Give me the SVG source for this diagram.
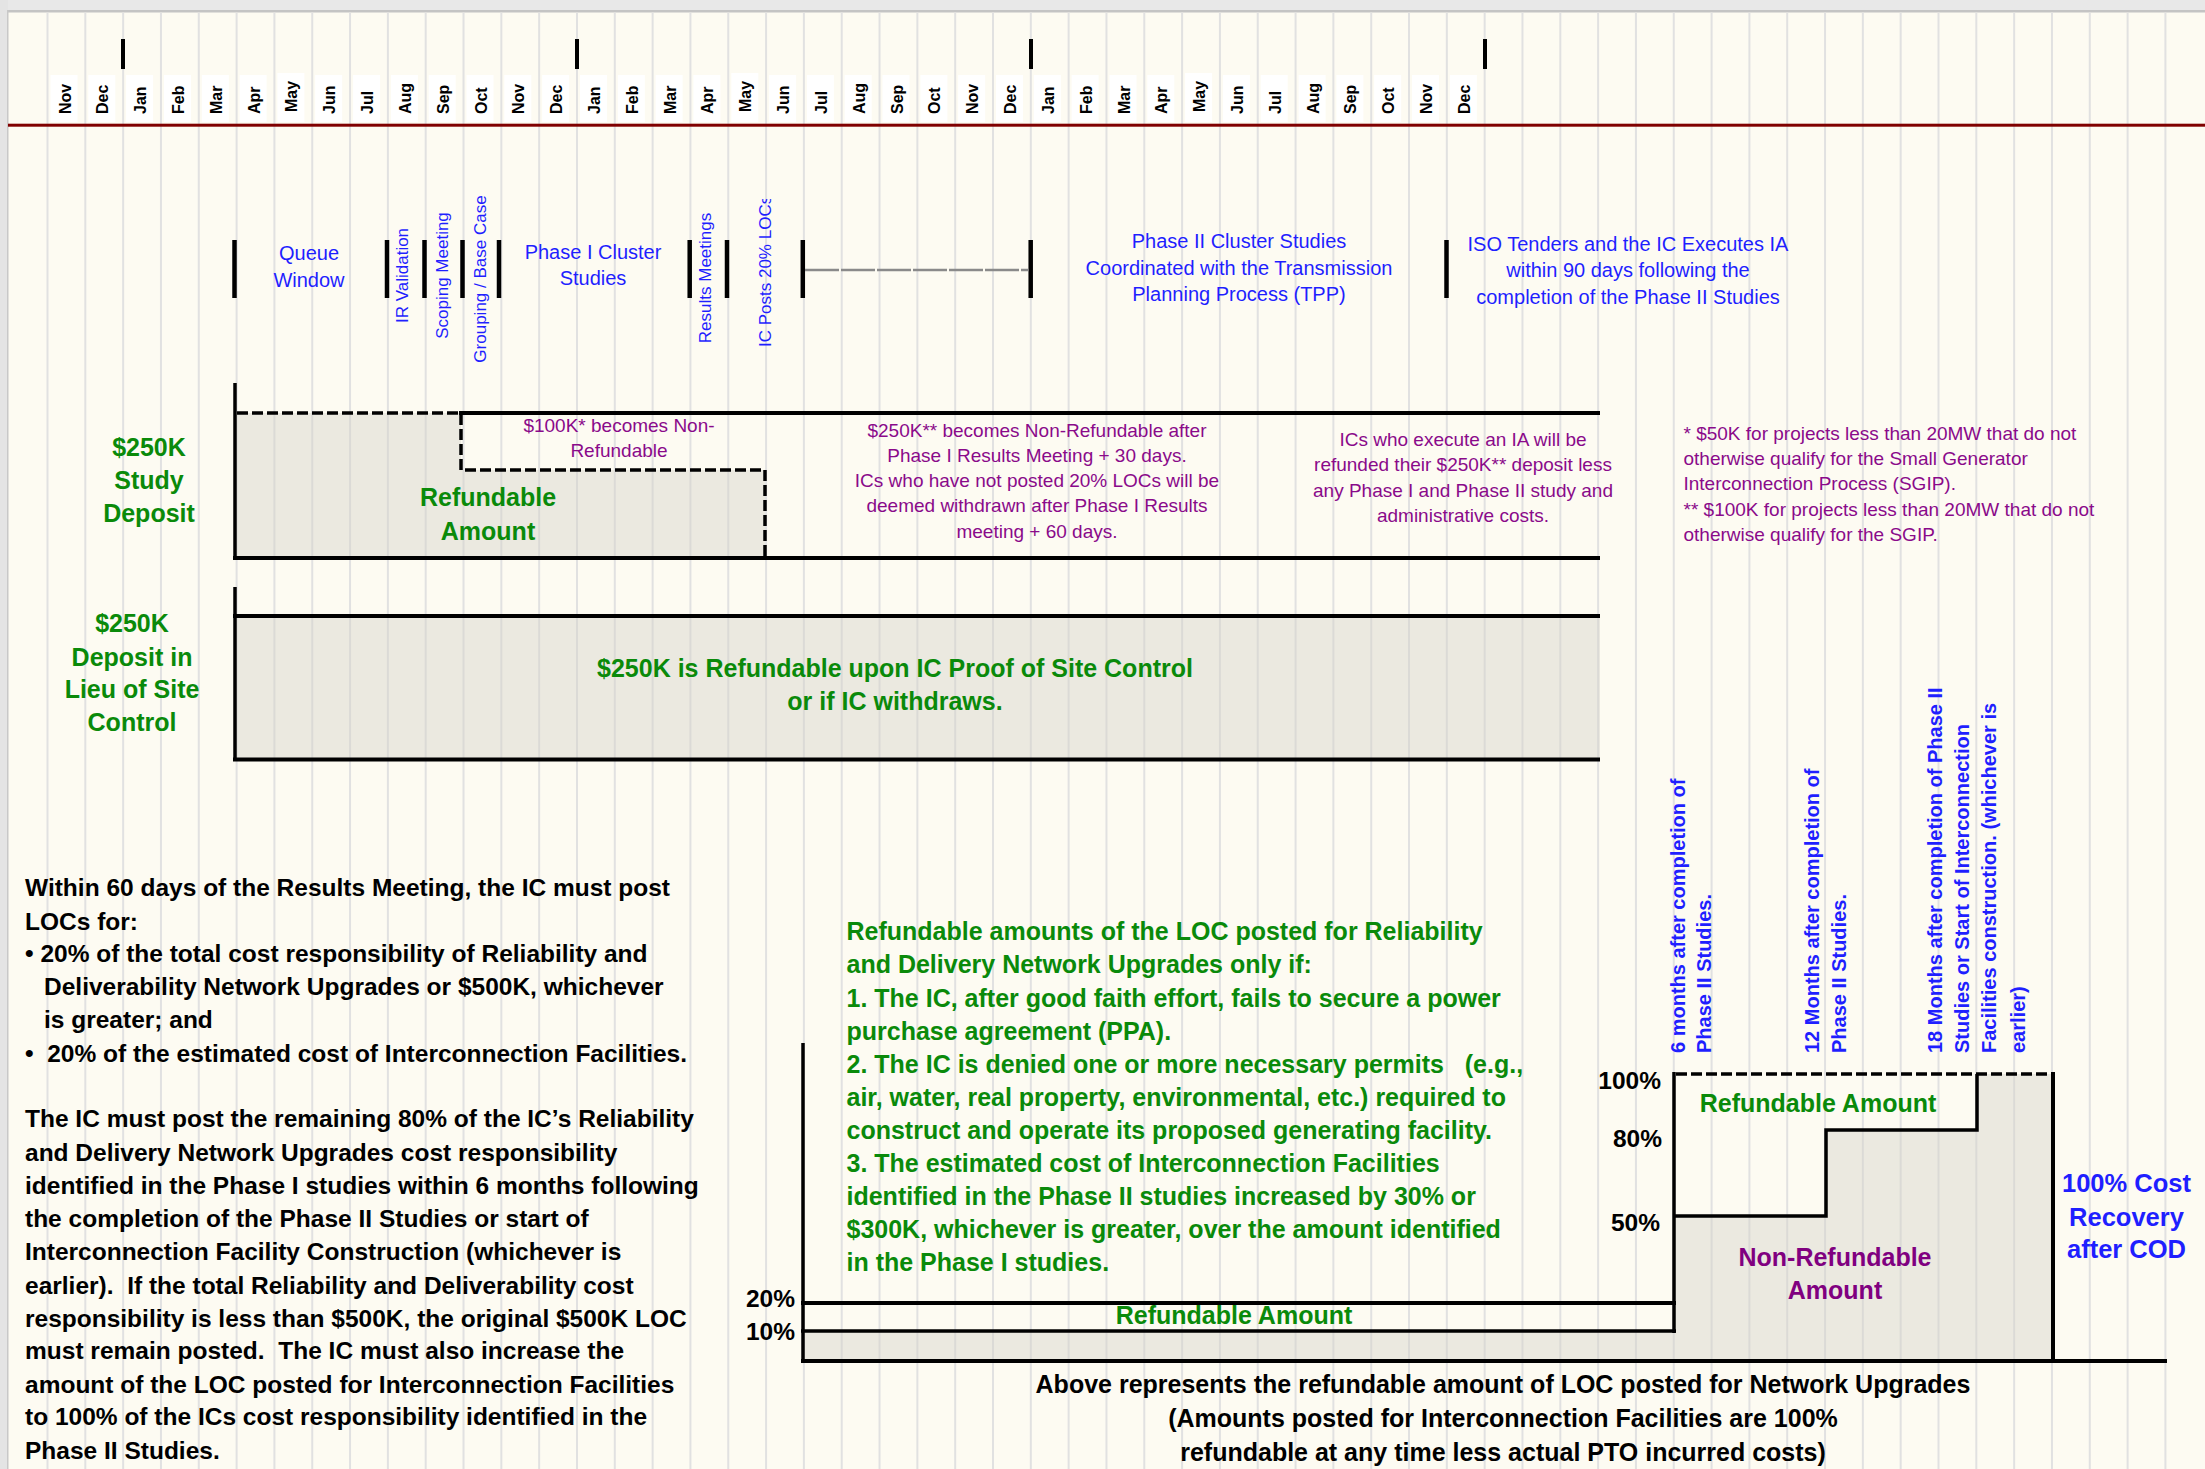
<svg xmlns="http://www.w3.org/2000/svg" width="2205" height="1469" viewBox="0 0 2205 1469">
<defs>
<style>
.grid{stroke:#e1e1e1;stroke-width:2;fill:none}
.mbox{fill:#ffffff}
.month{font-family:"Liberation Sans",Arial,sans-serif;font-weight:bold;font-size:16px;fill:#000}
.ph{font-family:"Liberation Sans",Arial,sans-serif;font-size:20px;fill:#1f1fff;text-anchor:middle}
.phr{font-family:"Liberation Sans",Arial,sans-serif;font-size:17px;fill:#1f1fff;text-anchor:middle}
.bar{stroke:#000;stroke-width:4.5;fill:none}
.thick{stroke:#000;stroke-width:4;fill:none}
.med{stroke:#000;stroke-width:3.5;fill:none}
.dash{stroke:#000;stroke-width:3.5;stroke-dasharray:11 4;fill:none}
.gdash{stroke:#8a8a8a;stroke-width:2.5;stroke-dasharray:34 2;fill:none}
.fill{fill:#d4d2ca;fill-opacity:0.45}
.gb{font-family:"Liberation Sans",Arial,sans-serif;font-weight:bold;font-size:25px;fill:#0a8a0a;text-anchor:middle}
.gl{font-family:"Liberation Sans",Arial,sans-serif;font-weight:bold;font-size:25px;fill:#0a8a0a;white-space:pre}
.pu{font-family:"Liberation Sans",Arial,sans-serif;font-size:19px;fill:#8a0a8a;text-anchor:middle}
.pul{font-family:"Liberation Sans",Arial,sans-serif;font-size:19px;fill:#8a0a8a}
.pb{font-family:"Liberation Sans",Arial,sans-serif;font-weight:bold;font-size:25px;fill:#800080;text-anchor:middle}
.bk{font-family:"Liberation Sans",Arial,sans-serif;font-weight:bold;font-size:24.5px;fill:#000;white-space:pre}
.bkc{font-family:"Liberation Sans",Arial,sans-serif;font-weight:bold;font-size:25px;fill:#000;text-anchor:middle}
.pct{font-family:"Liberation Sans",Arial,sans-serif;font-weight:bold;font-size:24.5px;fill:#000;text-anchor:end}
.blr{font-family:"Liberation Sans",Arial,sans-serif;font-weight:bold;font-size:20px;fill:#1f1fff}
.blc{font-family:"Liberation Sans",Arial,sans-serif;font-weight:bold;font-size:25.5px;fill:#1f1fff;text-anchor:middle}
</style>
<clipPath id="clipIC"><rect x="740" y="199" width="60" height="200"/></clipPath>
</defs>

<!-- background -->
<rect x="0" y="0" width="2205" height="1469" fill="#fdfbf2"/>
<rect x="0" y="0" width="2205" height="10" fill="#e8e8e8"/>
<rect x="0" y="10" width="2205" height="2.5" fill="#c4c4c4"/>
<rect x="0" y="0" width="8" height="1469" fill="#e4e4e4"/>
<rect x="7" y="10" width="1.5" height="1459" fill="#c8c8c8"/>

<!-- grid -->
<path class="grid" d="M47.5 12.5V1469M85.32 12.5V1469M123.14 12.5V1469M160.96 12.5V1469M198.78 12.5V1469M236.6 12.5V1469M274.42 12.5V1469M312.24 12.5V1469M350.06 12.5V1469M387.88 12.5V1469M425.7 12.5V1469M463.52 12.5V1469M501.34 12.5V1469M539.16 12.5V1469M576.98 12.5V1469M614.8 12.5V1469M652.62 12.5V1469M690.44 12.5V1469M728.26 12.5V1469M766.08 12.5V1469M803.9 12.5V1469M841.72 12.5V1469M879.54 12.5V1469M917.36 12.5V1469M955.18 12.5V1469M993 12.5V1469M1030.82 12.5V1469M1068.64 12.5V1469M1106.46 12.5V1469M1144.28 12.5V1469M1182.1 12.5V1469M1219.92 12.5V1469M1257.74 12.5V1469M1295.56 12.5V1469M1333.38 12.5V1469M1371.2 12.5V1469M1409.02 12.5V1469M1446.84 12.5V1469M1484.66 12.5V1469M1522.48 12.5V1469M1560.3 12.5V1469M1598.12 12.5V1469M1635.94 12.5V1469M1673.76 12.5V1469M1711.58 12.5V1469M1749.4 12.5V1469M1787.22 12.5V1469M1825.04 12.5V1469M1862.86 12.5V1469M1900.68 12.5V1469M1938.5 12.5V1469M1976.32 12.5V1469M2014.14 12.5V1469M2051.96 12.5V1469M2089.78 12.5V1469M2127.6 12.5V1469M2165.42 12.5V1469"/>

<!-- month header -->
<g id="month-header">
<rect x="8" y="123.7" width="2197" height="3" fill="#800000"/>
<g class="ticks">
<rect x="121" y="39" width="4" height="30" fill="#000"/>
<rect x="575" y="39" width="4" height="30" fill="#000"/>
<rect x="1029" y="39" width="4" height="30" fill="#000"/>
<rect x="1483" y="39" width="4" height="30" fill="#000"/>
</g>
<g class="boxes">
<rect class="mbox" x="50.5" y="75" width="27" height="47"/>
<rect class="mbox" x="88.3" y="75" width="27" height="47"/>
<rect class="mbox" x="126.1" y="75" width="27" height="47"/>
<rect class="mbox" x="164" y="75" width="27" height="47"/>
<rect class="mbox" x="201.8" y="75" width="27" height="47"/>
<rect class="mbox" x="239.6" y="75" width="27" height="47"/>
<rect class="mbox" x="277.4" y="73" width="27" height="49"/>
<rect class="mbox" x="315.2" y="75" width="27" height="47"/>
<rect class="mbox" x="353.1" y="75" width="27" height="47"/>
<rect class="mbox" x="390.9" y="75" width="27" height="47"/>
<rect class="mbox" x="428.7" y="75" width="27" height="47"/>
<rect class="mbox" x="466.5" y="75" width="27" height="47"/>
<rect class="mbox" x="504.3" y="75" width="27" height="47"/>
<rect class="mbox" x="542.2" y="75" width="27" height="47"/>
<rect class="mbox" x="580" y="75" width="27" height="47"/>
<rect class="mbox" x="617.8" y="75" width="27" height="47"/>
<rect class="mbox" x="655.6" y="75" width="27" height="47"/>
<rect class="mbox" x="693.4" y="75" width="27" height="47"/>
<rect class="mbox" x="731.3" y="73" width="27" height="49"/>
<rect class="mbox" x="769.1" y="75" width="27" height="47"/>
<rect class="mbox" x="806.9" y="75" width="27" height="47"/>
<rect class="mbox" x="844.7" y="75" width="27" height="47"/>
<rect class="mbox" x="882.5" y="75" width="27" height="47"/>
<rect class="mbox" x="920.4" y="75" width="27" height="47"/>
<rect class="mbox" x="958.2" y="75" width="27" height="47"/>
<rect class="mbox" x="996" y="75" width="27" height="47"/>
<rect class="mbox" x="1033.8" y="75" width="27" height="47"/>
<rect class="mbox" x="1071.6" y="75" width="27" height="47"/>
<rect class="mbox" x="1109.5" y="75" width="27" height="47"/>
<rect class="mbox" x="1147.3" y="75" width="27" height="47"/>
<rect class="mbox" x="1185.1" y="73" width="27" height="49"/>
<rect class="mbox" x="1222.9" y="75" width="27" height="47"/>
<rect class="mbox" x="1260.7" y="75" width="27" height="47"/>
<rect class="mbox" x="1298.6" y="75" width="27" height="47"/>
<rect class="mbox" x="1336.4" y="75" width="27" height="47"/>
<rect class="mbox" x="1374.2" y="75" width="27" height="47"/>
<rect class="mbox" x="1412" y="75" width="27" height="47"/>
<rect class="mbox" x="1449.8" y="75" width="27" height="47"/>
</g>
<g class="labels">
<text class="month" transform="translate(70.5,114) rotate(-90)">Nov</text>
<text class="month" transform="translate(108.3,114) rotate(-90)">Dec</text>
<text class="month" transform="translate(146.1,114) rotate(-90)">Jan</text>
<text class="month" transform="translate(184,114) rotate(-90)">Feb</text>
<text class="month" transform="translate(221.8,114) rotate(-90)">Mar</text>
<text class="month" transform="translate(259.6,114) rotate(-90)">Apr</text>
<text class="month" transform="translate(297.4,112) rotate(-90)">May</text>
<text class="month" transform="translate(335.2,114) rotate(-90)">Jun</text>
<text class="month" transform="translate(373.1,114) rotate(-90)">Jul</text>
<text class="month" transform="translate(410.9,114) rotate(-90)">Aug</text>
<text class="month" transform="translate(448.7,114) rotate(-90)">Sep</text>
<text class="month" transform="translate(486.5,114) rotate(-90)">Oct</text>
<text class="month" transform="translate(524.3,114) rotate(-90)">Nov</text>
<text class="month" transform="translate(562.2,114) rotate(-90)">Dec</text>
<text class="month" transform="translate(600,114) rotate(-90)">Jan</text>
<text class="month" transform="translate(637.8,114) rotate(-90)">Feb</text>
<text class="month" transform="translate(675.6,114) rotate(-90)">Mar</text>
<text class="month" transform="translate(713.4,114) rotate(-90)">Apr</text>
<text class="month" transform="translate(751.3,112) rotate(-90)">May</text>
<text class="month" transform="translate(789.1,114) rotate(-90)">Jun</text>
<text class="month" transform="translate(826.9,114) rotate(-90)">Jul</text>
<text class="month" transform="translate(864.7,114) rotate(-90)">Aug</text>
<text class="month" transform="translate(902.5,114) rotate(-90)">Sep</text>
<text class="month" transform="translate(940.4,114) rotate(-90)">Oct</text>
<text class="month" transform="translate(978.2,114) rotate(-90)">Nov</text>
<text class="month" transform="translate(1016,114) rotate(-90)">Dec</text>
<text class="month" transform="translate(1053.8,114) rotate(-90)">Jan</text>
<text class="month" transform="translate(1091.6,114) rotate(-90)">Feb</text>
<text class="month" transform="translate(1129.5,114) rotate(-90)">Mar</text>
<text class="month" transform="translate(1167.3,114) rotate(-90)">Apr</text>
<text class="month" transform="translate(1205.1,112) rotate(-90)">May</text>
<text class="month" transform="translate(1242.9,114) rotate(-90)">Jun</text>
<text class="month" transform="translate(1280.7,114) rotate(-90)">Jul</text>
<text class="month" transform="translate(1318.6,114) rotate(-90)">Aug</text>
<text class="month" transform="translate(1356.4,114) rotate(-90)">Sep</text>
<text class="month" transform="translate(1394.2,114) rotate(-90)">Oct</text>
<text class="month" transform="translate(1432,114) rotate(-90)">Nov</text>
<text class="month" transform="translate(1469.8,114) rotate(-90)">Dec</text>
</g>
</g>

<!-- phase row -->
<g id="phases">
<g class="bars">
<line class="bar" x1="234.5" y1="240" x2="234.5" y2="298"/>
<line class="bar" x1="387" y1="240" x2="387" y2="298"/>
<line class="bar" x1="424.5" y1="240" x2="424.5" y2="298"/>
<line class="bar" x1="462.5" y1="240" x2="462.5" y2="298"/>
<line class="bar" x1="499" y1="240" x2="499" y2="298"/>
<line class="bar" x1="689.7" y1="240" x2="689.7" y2="298"/>
<line class="bar" x1="727" y1="240" x2="727" y2="298"/>
<line class="bar" x1="802.8" y1="240" x2="802.8" y2="298"/>
<line class="bar" x1="1030.7" y1="240" x2="1030.7" y2="298"/>
<line class="bar" x1="1446.5" y1="240" x2="1446.5" y2="298"/>
<line class="gdash" x1="805" y1="270" x2="1028.5" y2="270"/>
</g>
<g id="queue-window"><text class="ph" x="309" y="260">Queue</text><text class="ph" x="309" y="286.5">Window</text></g>
<g id="ir-validation"><text class="phr" transform="translate(408,275.5) rotate(-90)">IR Validation</text></g>
<g id="scoping-meeting"><text class="phr" transform="translate(448,275.5) rotate(-90)">Scoping Meeting</text></g>
<g id="grouping"><text class="phr" transform="translate(486,279) rotate(-90)">Grouping / Base Case</text></g>
<g id="phase1"><text class="ph" x="593" y="259">Phase I Cluster</text><text class="ph" x="593" y="284.5">Studies</text></g>
<g id="results-meetings"><text class="phr" transform="translate(711,278) rotate(-90)">Results Meetings</text></g>
<g id="ic-posts" clip-path="url(#clipIC)"><text class="phr" style="text-anchor:start" transform="translate(771,347) rotate(-90)">IC Posts 20% LOCs</text></g>
<g id="phase2"><text class="ph" x="1239" y="248">Phase II Cluster Studies</text><text class="ph" x="1239" y="274.5">Coordinated with the Transmission</text><text class="ph" x="1239" y="301">Planning Process (TPP)</text></g>
<g id="iso-tenders"><text class="ph" x="1628" y="251">ISO Tenders and the IC Executes IA</text><text class="ph" x="1628" y="277">within 90 days following the</text><text class="ph" x="1628" y="304">completion of the Phase II Studies</text></g>
</g>

<!-- study deposit -->
<g id="study-deposit">
<polygon class="fill" points="235,413 461,413 461,470 765,470 765,558 235,558"/>
<line class="med" x1="235" y1="383" x2="235" y2="560"/>
<path class="dash" d="M237 413H461V470H765V556"/>
<line class="thick" x1="459" y1="413" x2="1600" y2="413"/>
<line class="thick" x1="233" y1="558" x2="1600" y2="558"/>
<text class="gb" x="149" y="456">$250K</text>
<text class="gb" x="149" y="489">Study</text>
<text class="gb" x="149" y="522">Deposit</text>
<text class="gb" x="488" y="505.5">Refundable</text>
<text class="gb" x="488" y="539.5">Amount</text>
<text class="pu" x="619" y="431.5">$100K* becomes Non-</text>
<text class="pu" x="619" y="456.5">Refundable</text>
<text class="pu" x="1037" y="436.5">$250K** becomes Non-Refundable after</text>
<text class="pu" x="1037" y="461.5">Phase I Results Meeting + 30 days.</text>
<text class="pu" x="1037" y="486.5">ICs who have not posted 20% LOCs will be</text>
<text class="pu" x="1037" y="512">deemed withdrawn after Phase I Results</text>
<text class="pu" x="1037" y="537.5">meeting + 60 days.</text>
<text class="pu" x="1463" y="445.5">ICs who execute an IA will be</text>
<text class="pu" x="1463" y="471">refunded their $250K** deposit less</text>
<text class="pu" x="1463" y="496.5">any Phase I and Phase II study and</text>
<text class="pu" x="1463" y="521.5">administrative costs.</text>
</g>

<g id="footnotes">
<text class="pul" x="1683.5" y="439.5">* $50K for projects less than 20MW that do not</text>
<text class="pul" x="1683.5" y="464.5">otherwise qualify for the Small Generator</text>
<text class="pul" x="1683.5" y="490">Interconnection Process (SGIP).</text>
<text class="pul" x="1683.5" y="515.5">** $100K for projects less than 20MW that do not</text>
<text class="pul" x="1683.5" y="540.5">otherwise qualify for the SGIP.</text>
</g>

<!-- site control -->
<g id="site-control">
<rect class="fill" x="235" y="616" width="1365" height="143.5"/>
<line class="med" x1="235" y1="587" x2="235" y2="761"/>
<line class="thick" x1="233" y1="616" x2="1600" y2="616"/>
<line class="thick" x1="233" y1="759.5" x2="1600" y2="759.5"/>
<text class="gb" x="132" y="632">$250K</text>
<text class="gb" x="132" y="665.5">Deposit in</text>
<text class="gb" x="132" y="698">Lieu of Site</text>
<text class="gb" x="132" y="730.5">Control</text>
<text class="gb" x="895" y="676.5">$250K is Refundable upon IC Proof of Site Control</text>
<text class="gb" x="895" y="710">or if IC withdraws.</text>
</g>

<!-- left paragraph -->
<g id="loc-requirements">
<text class="bk" x="25" y="896">Within 60 days of the Results Meeting, the IC must post</text>
<text class="bk" x="25" y="929.5">LOCs for:</text>
<text class="bk" x="25" y="962">• 20% of the total cost responsibility of Reliability and</text>
<text class="bk" x="44" y="994.5">Deliverability Network Upgrades or $500K, whichever</text>
<text class="bk" x="44" y="1027.5">is greater; and</text>
<text class="bk" x="25" y="1061.5">•  20% of the estimated cost of Interconnection Facilities.</text>
<text class="bk" x="25" y="1127">The IC must post the remaining 80% of the IC’s Reliability</text>
<text class="bk" x="25" y="1160.5">and Delivery Network Upgrades cost responsibility</text>
<text class="bk" x="25" y="1193.5">identified in the Phase I studies within 6 months following</text>
<text class="bk" x="25" y="1226.5">the completion of the Phase II Studies or start of</text>
<text class="bk" x="25" y="1260">Interconnection Facility Construction (whichever is</text>
<text class="bk" x="25" y="1293.5">earlier).  If the total Reliability and Deliverability cost</text>
<text class="bk" x="25" y="1326.5">responsibility is less than $500K, the original $500K LOC</text>
<text class="bk" x="25" y="1359">must remain posted.  The IC must also increase the</text>
<text class="bk" x="25" y="1392.5">amount of the LOC posted for Interconnection Facilities</text>
<text class="bk" x="25" y="1425">to 100% of the ICs cost responsibility identified in the</text>
<text class="bk" x="25" y="1458.5">Phase II Studies.</text>
</g>

<!-- refund conditions -->
<g id="refund-conditions">
<text class="gl" x="846.5" y="940">Refundable amounts of the LOC posted for Reliability</text>
<text class="gl" x="846.5" y="973">and Delivery Network Upgrades only if:</text>
<text class="gl" x="846.5" y="1006.5">1. The IC, after good faith effort, fails to secure a power</text>
<text class="gl" x="846.5" y="1040">purchase agreement (PPA).</text>
<text class="gl" x="846.5" y="1073">2. The IC is denied one or more necessary permits   (e.g.,</text>
<text class="gl" x="846.5" y="1106">air, water, real property, environmental, etc.) required to</text>
<text class="gl" x="846.5" y="1138.5">construct and operate its proposed generating facility.</text>
<text class="gl" x="846.5" y="1171.5">3. The estimated cost of Interconnection Facilities</text>
<text class="gl" x="846.5" y="1204.5">identified in the Phase II studies increased by 30% or</text>
<text class="gl" x="846.5" y="1238">$300K, whichever is greater, over the amount identified</text>
<text class="gl" x="846.5" y="1271">in the Phase I studies.</text>
</g>

<!-- LOC chart -->
<g id="loc-chart">
<rect class="fill" x="803" y="1331" width="871" height="30"/>
<polygon class="fill" points="1674,1216 1826,1216 1826,1130 1977,1130 1977,1074 2053,1074 2053,1361 1674,1361"/>
<g id="chart-lines">
<line class="med" x1="803" y1="1043" x2="803" y2="1363"/>
<line class="thick" x1="801" y1="1303" x2="1676" y2="1303"/>
<line class="med" x1="801" y1="1331" x2="1676" y2="1331"/>
<line class="med" x1="1674" y1="1072" x2="1674" y2="1333"/>
<line class="dash" x1="1676" y1="1074" x2="2051" y2="1074"/>
<path class="med" d="M1674 1216H1826V1130H1977V1074"/>
<line class="thick" x1="2053" y1="1072" x2="2053" y2="1361"/>
<line class="thick" x1="801" y1="1361" x2="2167" y2="1361"/>
</g>
<text class="pct" x="1661" y="1088.5">100%</text>
<text class="pct" x="1662" y="1146.5">80%</text>
<text class="pct" x="1660" y="1231">50%</text>
<text class="pct" x="795" y="1307">20%</text>
<text class="pct" x="795" y="1340">10%</text>
<text class="gb" x="1818" y="1112">Refundable Amount</text>
<text class="gb" x="1234" y="1324">Refundable Amount</text>
<text class="pb" x="1835" y="1266">Non-Refundable</text>
<text class="pb" x="1835" y="1299">Amount</text>
<text class="blc" x="2126.5" y="1192">100% Cost</text>
<text class="blc" x="2126.5" y="1225.5">Recovery</text>
<text class="blc" x="2126.5" y="1258">after COD</text>
<g id="milestone-6m">
<text class="blr" transform="translate(1684.5,1053) rotate(-90)">6 months after completion of</text>
<text class="blr" transform="translate(1710.7,1053) rotate(-90)">Phase II Studies.</text>
</g>
<g id="milestone-12m">
<text class="blr" transform="translate(1819.3,1053) rotate(-90)">12 Months after completion of</text>
<text class="blr" transform="translate(1846,1053) rotate(-90)">Phase II Studies.</text>
</g>
<g id="milestone-18m">
<text class="blr" transform="translate(1942,1053) rotate(-90)">18 Months after completion of Phase II</text>
<text class="blr" transform="translate(1969.3,1053) rotate(-90)">Studies or Start of Interconnection</text>
<text class="blr" transform="translate(1995.6,1053) rotate(-90)">Facilities construction. (whichever is</text>
<text class="blr" transform="translate(2024.8,1053) rotate(-90)">earlier)</text>
</g>
<g id="chart-caption">
<text class="bkc" x="1503" y="1393">Above represents the refundable amount of LOC posted for Network Upgrades</text>
<text class="bkc" x="1503" y="1427">(Amounts posted for Interconnection Facilities are 100%</text>
<text class="bkc" x="1503" y="1460.5">refundable at any time less actual PTO incurred costs)</text>
</g>
</g>
</svg>
